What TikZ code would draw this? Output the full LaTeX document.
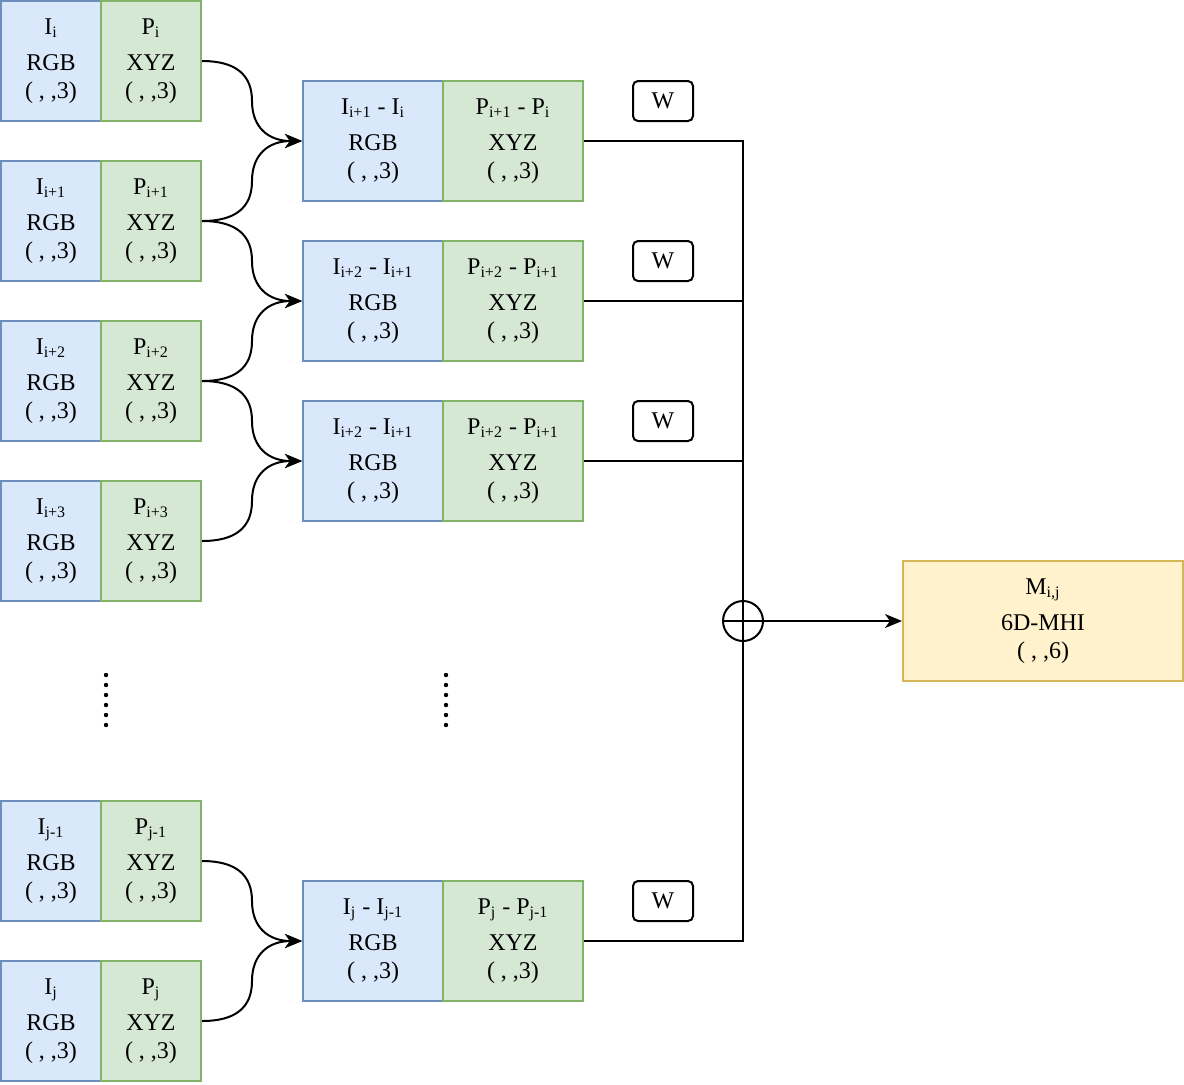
\documentclass[tikz,border=0pt]{standalone}
\usepackage{fontspec}
\setmainfont{Liberation Serif}
\usetikzlibrary{arrows.meta,calc}

\definecolor{rgbfill}{HTML}{DAE8FC}
\definecolor{rgbline}{HTML}{6C8EBF}
\definecolor{xyzfill}{HTML}{D5E8D4}
\definecolor{xyzline}{HTML}{82B366}
\definecolor{mhifill}{HTML}{FFF2CC}
\definecolor{mhiline}{HTML}{D6B656}

\tikzset{
  cell/.style={rectangle, draw, line width=1pt, inner sep=0pt, align=center,
    font=\fontsize{12}{14}\selectfont},
  tri/.style={cell, minimum height=60pt, execute at begin node={\rule{0pt}{13pt}}},
  img/.style={tri, fill=rgbfill, draw=rgbline, minimum width=50pt},
  pts/.style={tri, fill=xyzfill, draw=xyzline, minimum width=50pt},
  dimg/.style={tri, fill=rgbfill, draw=rgbline, minimum width=70pt},
  dpts/.style={tri, fill=xyzfill, draw=xyzline, minimum width=70pt},
  wbox/.style={cell, draw=black, rounded corners=2.5pt, minimum width=30pt, minimum height=20pt},
  arr/.style={line width=1pt, -{Stealth[length=8.5pt,width=7pt,inset=2.5pt]}},
  curvy/.style={arr,
    to path={let \p1=(\tikztostart), \p2=(\tikztotarget),
      \n1={0.5*\x1+0.5*\x2}, \n2={0.5*\y1+0.5*\y2},
      \n3={\x1/3+2*\n1/3}, \n4={\x2/3+2*\n1/3},
      \n5={\n2/3+2*\y1/3}, \n6={\n2/3+2*\y2/3} in
      .. controls (\n3,\y1) and (\n1,\n5) .. (\n1,\n2)
      .. controls (\n1,\n6) and (\n4,\y2) .. (\tikztotarget)}}
}

\begin{document}
\begin{tikzpicture}[x=0.5pt,y=-0.5pt]
\useasboundingbox (0,0) rectangle (1184,1084);

% input frames
\foreach \n/\y/\s in {1/61/i, 2/221/i+1, 3/381/i+2, 4/541/i+3, 5/861/j-1, 6/1021/j} {
  \node[img] (img\n) at (51,\y) {I\textsubscript{\s}\\[4pt]RGB\\( , ,3)};
  \node[pts] (pts\n) at (151,\y) {P\textsubscript{\s}\\[4pt]XYZ\\( , ,3)};
}

% differences
\node[dimg] (dimg1) at (373,141) {I\textsubscript{i+1} - I\textsubscript{i}\\[4pt]RGB\\( , ,3)};
\node[dpts] (dpts1) at (513,141) {P\textsubscript{i+1} - P\textsubscript{i}\\[4pt]XYZ\\( , ,3)};
\node[dimg] (dimg2) at (373,301) {I\textsubscript{i+2} - I\textsubscript{i+1}\\[4pt]RGB\\( , ,3)};
\node[dpts] (dpts2) at (513,301) {P\textsubscript{i+2} - P\textsubscript{i+1}\\[4pt]XYZ\\( , ,3)};
\node[dimg] (dimg3) at (373,461) {I\textsubscript{i+2} - I\textsubscript{i+1}\\[4pt]RGB\\( , ,3)};
\node[dpts] (dpts3) at (513,461) {P\textsubscript{i+2} - P\textsubscript{i+1}\\[4pt]XYZ\\( , ,3)};
\node[dimg] (dimg4) at (373,941) {I\textsubscript{j} - I\textsubscript{j-1}\\[4pt]RGB\\( , ,3)};
\node[dpts] (dpts4) at (513,941) {P\textsubscript{j} - P\textsubscript{j-1}\\[4pt]XYZ\\( , ,3)};

% weights
\foreach \n/\y in {1/101, 2/261, 3/421, 4/901}
  \node[wbox] (w\n) at (663,\y) {W};

\node[circle, draw, line width=1pt, minimum size=20pt, inner sep=0pt] (sum) at (743,621) {};
\node[tri, fill=mhifill, draw=mhiline, minimum width=140pt] (mhi) at (1043,621)
  {M\textsubscript{i,j}\\[4pt]6D-MHI\\( , ,6)};

% vertical dots
\foreach \k in {0,...,5} {
  \fill (106,675+10*\k) circle (1.1pt);
  \fill (446,675+10*\k) circle (1.1pt);
}

% connectors
\foreach \a/\b in {1/1, 2/1, 2/2, 3/2, 3/3, 4/3, 5/4, 6/4}
  \draw[curvy] (pts\a.east) to (dimg\b.west);

\draw[line width=1pt] (dpts1.east) -| (sum.south);
\draw[line width=1pt] (dpts4.east) -| (sum.north);
\draw[line width=1pt] (dpts2.east) -- (dpts2.east -| sum.center);
\draw[line width=1pt] (dpts3.east) -- (dpts3.east -| sum.center);
\draw[arr] (sum.west) -- (mhi.west);

\end{tikzpicture}
\end{document}
